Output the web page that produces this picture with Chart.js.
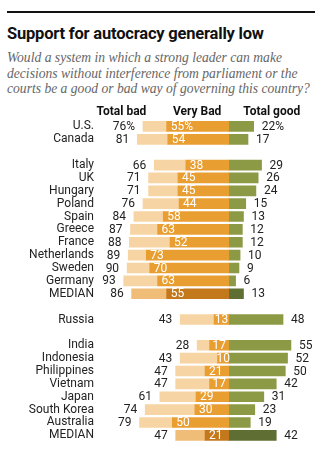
<!DOCTYPE html>
<html>
<head>
<meta charset="utf-8">
<script src="https://cdn.jsdelivr.net/npm/chart.js@4"></script>
<style>
  body { margin: 0; background: #fff; width: 335px; height: 455px; overflow: hidden; position: relative; font-family: Roboto, 'Liberation Sans', sans-serif; }
  .rule { position: absolute; left: 7px; top: 11px; width: 308px; height: 2px; background: #111; }
  .title { position: absolute; left: 7px; top: 24px; font-size: 16.5px; font-weight: 700; line-height: 20px; color: #111; white-space: nowrap; letter-spacing: -0.2px; }
  .sub { position: absolute; left: 7px; top: 50px; width: 330px; font-family: 'Liberation Serif', serif; font-style: italic; font-size: 13.6px; line-height: 15.6px; color: #666; }
  .wrap { position: absolute; left: 0; top: 100px; width: 335px; height: 355px; }
</style>
</head>
<body>
<div class="rule"></div>
<div class="title">Support for autocracy generally low</div>
<div class="sub">Would a system in which a strong leader can make<br>decisions without interference from parliament or the<br>courts be a good or bad way of governing this country?</div>
<div class="wrap"><canvas id="chart"></canvas></div>
<script>
const countries = ['U.S.', 'Canada', '', 'Italy', 'UK', 'Hungary', 'Poland', 'Spain', 'Greece', 'France',
  'Netherlands', 'Sweden', 'Germany', 'MEDIAN', '', 'Russia', '', 'India', 'Indonesia', 'Philippines',
  'Vietnam', 'Japan', 'South Korea', 'Australia', 'MEDIAN'];
const totalBad = [76, 81, null, 66, 71, 71, 76, 84, 87, 88, 89, 90, 93, 86, null, 43, null, 28, 43, 47, 47, 61, 74, 79, 47];
const veryBad = [55, 54, null, 38, 45, 45, 44, 58, 63, 52, 73, 70, 63, 55, null, 13, null, 17, 10, 21, 17, 29, 30, 50, 21];
const totalGood = [22, 17, null, 29, 26, 24, 15, 13, 12, 12, 10, 9, 6, 13, null, 48, null, 55, 52, 50, 42, 31, 23, 19, 42];
const headers = ['Total bad', 'Very Bad', 'Total good'];

const isMedian = countries.map(c => c === 'MEDIAN');
const FONT = "Roboto, 'Liberation Sans', sans-serif";

const valueLabels = {
  id: 'valueLabels',
  afterDatasetsDraw(chart) {
    const { ctx, scales: { x, y } } = chart;
    ctx.save();
    ctx.textBaseline = 'middle';
    ctx.font = `12px ${FONT}`;
    countries.forEach((c, i) => {
      if (totalBad[i] == null) return;
      const yy = y.getPixelForValue(i) + 0.5;
      const pct = i === 0 ? '%' : '';
      ctx.fillStyle = '#222';
      ctx.textAlign = 'right';
      ctx.fillText(totalBad[i] + pct, x.getPixelForValue(-totalBad[i]) - 8, yy);
      ctx.textAlign = 'left';
      ctx.fillText(totalGood[i] + pct, x.getPixelForValue(totalGood[i]) + 8, yy);
      const txt = veryBad[i] + pct;
      const w = ctx.measureText(txt).width;
      const segL = x.getPixelForValue(-veryBad[i]);
      const segW = x.getPixelForValue(0) - segL;
      ctx.fillStyle = '#fff';
      ctx.fillText(txt, segL + Math.min(4, (segW - w) / 2), yy);
    });
    // column headers
    ctx.font = `bold 12px ${FONT}`;
    ctx.fillStyle = '#111';
    ctx.textAlign = 'center';
    [-95, -28, 38].forEach((v, k) => ctx.fillText(headers[k], x.getPixelForValue(v), 12));
    ctx.restore();
  }
};

const pick = (norm, med) => countries.map((c, i) => isMedian[i] ? med : norm);

new Chart(document.getElementById('chart'), {
  type: 'bar',
  data: {
    labels: countries,
    datasets: [
      { label: 'Very bad', data: veryBad.map(v => v == null ? null : -v), backgroundColor: pick('#e99e32', '#c4781c') },
      { label: 'Somewhat bad', data: totalBad.map((v, i) => v == null ? null : -(v - veryBad[i])), backgroundColor: pick('#f7d4a3', '#efbd78') },
      { label: 'Total good', data: totalGood, backgroundColor: pick('#8c9a45', '#5f6e33') }
    ]
  },
  options: {
    indexAxis: 'y',
    responsive: true,
    maintainAspectRatio: false,
    animation: false,
    barThickness: 10,
    borderSkipped: false,
    layout: { padding: { top: 20, bottom: 8, left: 0, right: 0 } },
    plugins: { legend: { display: false }, tooltip: { enabled: false } },
    scales: {
      x: {
        stacked: true, min: -114, max: 94, display: false
      },
      y: {
        stacked: true,
        grid: { display: false, drawTicks: false },
        border: { display: false },
        afterFit(scale) { scale.width = 100; },
        ticks: { padding: 6, color: '#222', font: { size: 12, family: FONT }, autoSkip: false }
      }
    }
  },
  plugins: [valueLabels]
});
</script>
</body>
</html>
